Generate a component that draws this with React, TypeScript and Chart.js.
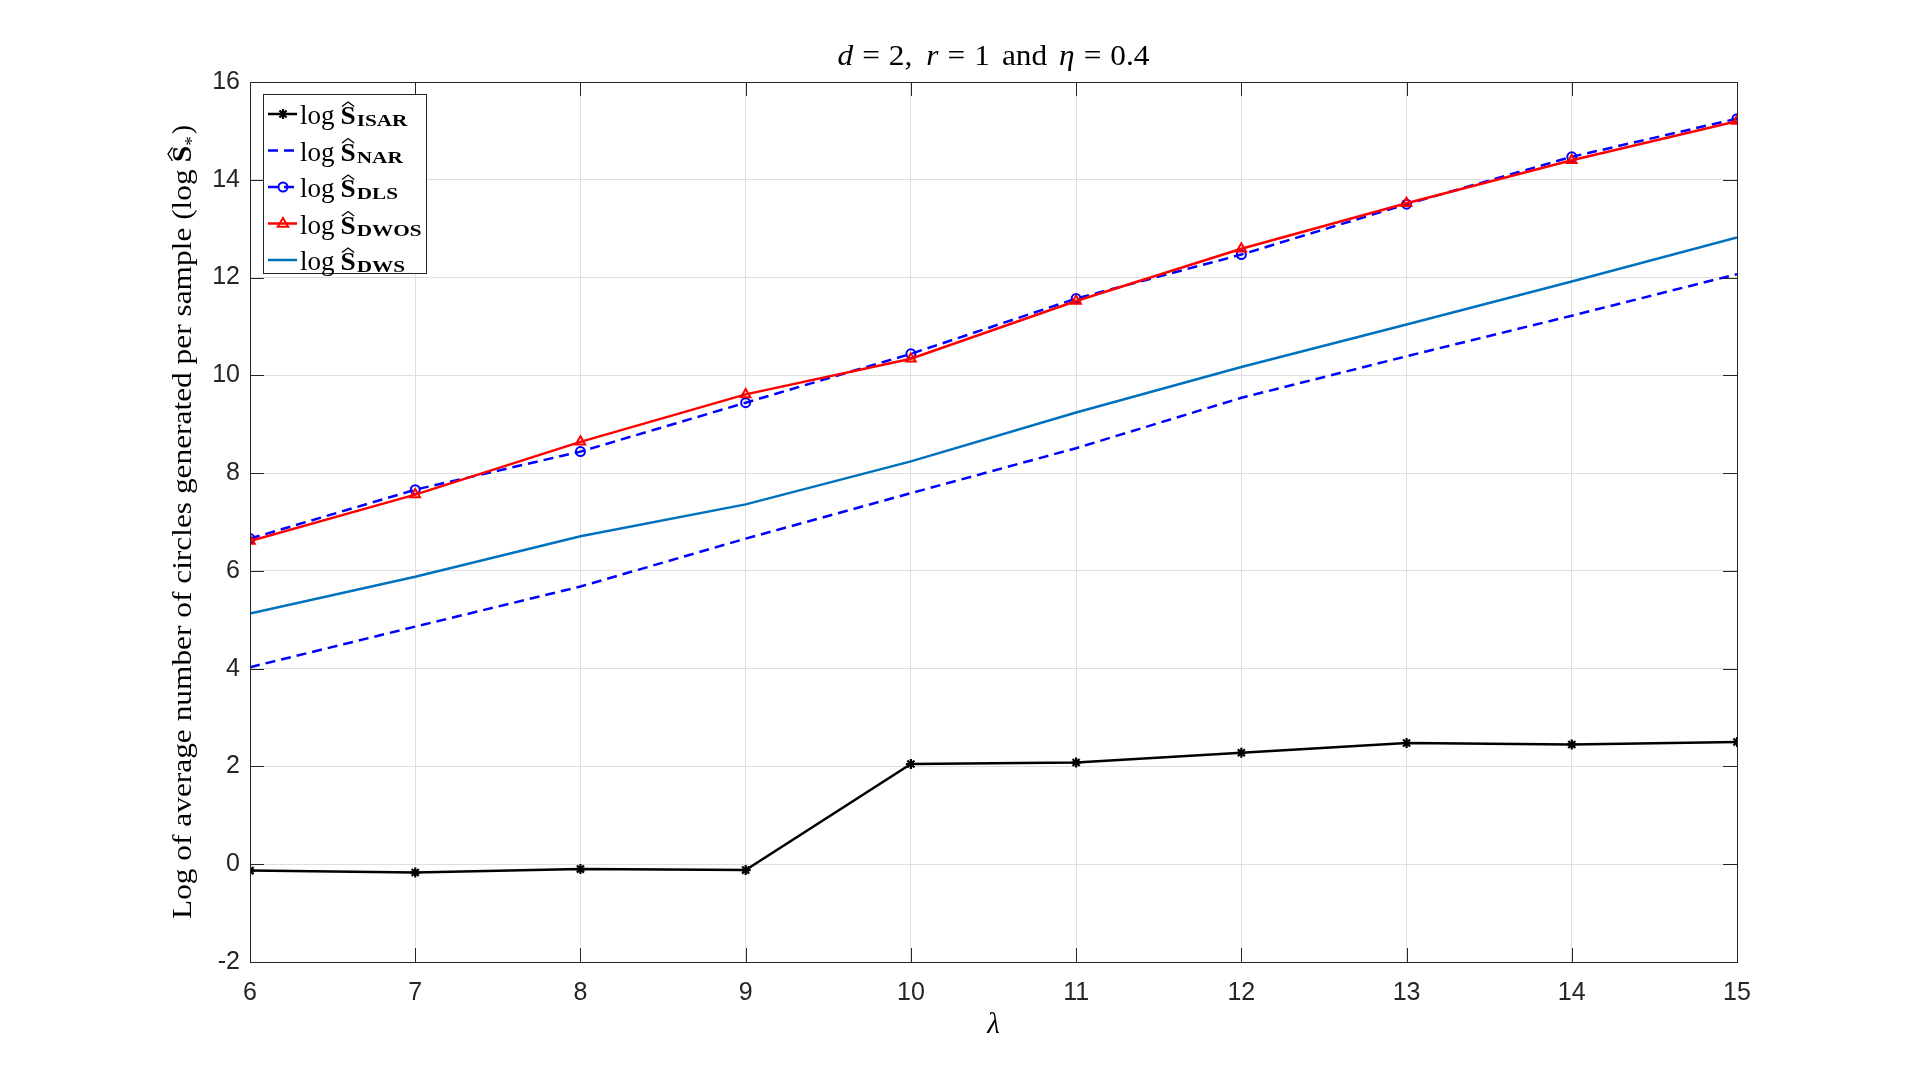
import React, { useEffect, useRef } from "react";
import { Chart, registerables } from "chart.js";

Chart.register(...registerables);

const lambdaValues = [6, 7, 8, 9, 10, 11, 12, 13, 14, 15];
const isarValues = [-0.13, -0.17, -0.1, -0.12, 2.05, 2.08, 2.28, 2.48, 2.45, 2.5];
const narValues = [4.03, 4.86, 5.68, 6.66, 7.59, 8.51, 9.54, 10.39, 11.22, 12.07];
const dlsValues = [6.66, 7.66, 8.44, 9.44, 10.44, 11.57, 12.47, 13.5, 14.47, 15.25];
const dwosValues = [6.61, 7.56, 8.64, 9.61, 10.34, 11.52, 12.59, 13.52, 14.4, 15.2];
const dwsValues = [5.13, 5.88, 6.71, 7.36, 8.24, 9.24, 10.17, 11.04, 11.92, 12.82];

const xTickValues = [6, 7, 8, 9, 10, 11, 12, 13, 14, 15];
const yTickValues = [-2, 0, 2, 4, 6, 8, 10, 12, 14, 16];
const legendSubscripts = ["ISAR", "NAR", "DLS", "DWOS", "DWS"];

const SERIF = "'Liberation Serif', 'DejaVu Serif', serif";
const SANS = "'Liberation Sans', Arial, sans-serif";
const AXIS_COLOR = "#262626";
const DWS_COLOR = "#0072BD";

type Piece = { t: string; f: string; dy?: number; sx?: number; gap?: number; hat?: number };

function richWidth(ctx: CanvasRenderingContext2D, pieces: Piece[]) {
  let w = 0;
  for (const p of pieces) {
    ctx.font = p.f;
    w += ctx.measureText(p.t).width * (p.sx ?? 1) + (p.gap ?? 0);
  }
  return w;
}

function drawRich(
  ctx: CanvasRenderingContext2D,
  pieces: Piece[],
  x: number,
  y: number,
  align: "left" | "center"
) {
  const total = richWidth(ctx, pieces);
  let cx = align === "center" ? x - total / 2 : x;
  ctx.textAlign = "left";
  ctx.textBaseline = "alphabetic";
  for (const p of pieces) {
    ctx.font = p.f;
    const sx = p.sx ?? 1;
    const w = ctx.measureText(p.t).width * sx;
    const by = y + (p.dy ?? 0);
    ctx.save();
    ctx.translate(cx, by);
    ctx.scale(sx, 1);
    ctx.fillText(p.t, 0, 0);
    ctx.restore();
    if (p.hat) {
      const h = p.hat;
      const top = by - h - 5;
      ctx.save();
      ctx.lineWidth = 1.3;
      ctx.beginPath();
      ctx.moveTo(cx + 1.5, top + 4.5);
      ctx.lineTo(cx + w / 2, top);
      ctx.lineTo(cx + w - 1.5, top + 4.5);
      ctx.stroke();
      ctx.restore();
    }
    cx += w + (p.gap ?? 0);
  }
}

const decorPlugin = {
  id: "decor",
  afterDraw(chart: any) {
    const ctx: CanvasRenderingContext2D = chart.ctx;
    const { left, right, top, bottom } = chart.chartArea;
    const xs = chart.scales.x;
    const ys = chart.scales.y;
    ctx.save();
    ctx.strokeStyle = AXIS_COLOR;
    ctx.fillStyle = AXIS_COLOR;
    ctx.lineWidth = 1;
    // inside ticks
    const tl = 14;
    ctx.beginPath();
    for (const v of xTickValues) {
      const px = Math.round(xs.getPixelForValue(v)) + 0.5;
      ctx.moveTo(px, bottom);
      ctx.lineTo(px, bottom - tl);
      ctx.moveTo(px, top);
      ctx.lineTo(px, top + tl);
    }
    for (const v of yTickValues) {
      const py = Math.round(ys.getPixelForValue(v)) + 0.5;
      ctx.moveTo(left, py);
      ctx.lineTo(left + tl, py);
      ctx.moveTo(right, py);
      ctx.lineTo(right - tl, py);
    }
    ctx.stroke();
    // box
    ctx.strokeRect(Math.round(left) + 0.5, Math.round(top) + 0.5, Math.round(right - left), Math.round(bottom - top));

    // title
    ctx.fillStyle = "#000";
    ctx.strokeStyle = "#000";
    const cxTitle = (left + right) / 2;
    const tf = `29px ${SERIF}`;
    const tfi = `italic 29px ${SERIF}`;
    drawRich(
      ctx,
      [
        { t: "d", f: tfi, gap: 9, sx: 1.08 },
        { t: "=", f: tf, gap: 9, sx: 1.08 },
        { t: "2,", f: tf, gap: 14, sx: 1.08 },
        { t: "r", f: tfi, gap: 9, sx: 1.08 },
        { t: "=", f: tf, gap: 9, sx: 1.08 },
        { t: "1", f: tf, gap: 12, sx: 1.08 },
        { t: "and", f: tf, gap: 12, sx: 1.08 },
        { t: "η", f: tfi, gap: 9, sx: 1.08 },
        { t: "=", f: tf, gap: 9, sx: 1.08 },
        { t: "0.4", f: tf, sx: 1.08 },
      ],
      cxTitle,
      65,
      "center"
    );

    // x label
    drawRich(ctx, [{ t: "λ", f: `italic 29px ${SERIF}` }], cxTitle, 1033, "center");

    // y label
    ctx.save();
    ctx.translate(191, (top + bottom) / 2);
    ctx.rotate(-Math.PI / 2);
    drawRich(
      ctx,
      [
        { t: "Log of average number of circles generated per sample (log", f: `28px ${SERIF}`, gap: 7, sx: 1.12 },
        { t: "S", f: `bold 27px ${SERIF}`, hat: 18, sx: 1.1 },
        { t: "*", f: `19px ${SERIF}`, dy: 7, gap: 2 },
        { t: ")", f: `28px ${SERIF}` },
      ],
      0,
      0,
      "center"
    );
    ctx.restore();

    // legend
    const lx0 = 263,
      ly0 = 94,
      lx1 = 426,
      ly1 = 273;
    ctx.fillStyle = "#fff";
    ctx.fillRect(lx0, ly0, lx1 - lx0, ly1 - ly0);
    ctx.strokeStyle = AXIS_COLOR;
    ctx.lineWidth = 1;
    ctx.strokeRect(lx0 + 0.5, ly0 + 0.5, lx1 - lx0, ly1 - ly0);

    const ds = chart.data.datasets;
    const order = [0, 1, 2, 3, 4];
    order.forEach((i, row) => {
      const d = ds[i];
      const yy = 114 + row * 36.5;
      ctx.save();
      ctx.strokeStyle = d.borderColor;
      ctx.lineWidth = d.borderWidth;
      ctx.setLineDash(d.borderDash || []);
      ctx.beginPath();
      ctx.moveTo(268, yy);
      ctx.lineTo(297, yy);
      ctx.stroke();
      ctx.setLineDash([]);
      if (d.pointRadius > 0) {
        ctx.lineWidth = d.pointBorderWidth;
        const r = d.pointRadius;
        const mx = 283;
        ctx.beginPath();
        if (d.pointStyle === "circle") {
          ctx.arc(mx, yy, r, 0, Math.PI * 2);
        } else if (d.pointStyle === "triangle") {
          ctx.moveTo(mx, yy - r);
          ctx.lineTo(mx + r * 0.95, yy + r * 0.6);
          ctx.lineTo(mx - r * 0.95, yy + r * 0.6);
          ctx.closePath();
        } else if (d.pointStyle === "star") {
          for (let k = 0; k < 4; k++) {
            const a = (k * Math.PI) / 4;
            ctx.moveTo(mx - Math.cos(a) * r, yy - Math.sin(a) * r);
            ctx.lineTo(mx + Math.cos(a) * r, yy + Math.sin(a) * r);
          }
        }
        ctx.stroke();
      }
      ctx.restore();
      ctx.fillStyle = "#000";
      ctx.strokeStyle = "#000";
      drawRich(
        ctx,
        [
          { t: "log", f: `27px ${SERIF}`, gap: 6 },
          { t: "S", f: `bold 26px ${SERIF}`, hat: 17, sx: 1.05, gap: 1 },
          { t: legendSubscripts[row], f: `bold 17px ${SERIF}`, dy: 2, sx: 1.25 },
        ],
        300,
        yy + 10,
        "left"
      );
    });
    ctx.restore();
  },
};

function toPoints(vals: number[]) {
  return lambdaValues.map((x, i) => ({ x, y: vals[i] }));
}

export default function App() {
  const ref = useRef<HTMLCanvasElement>(null);
  useEffect(() => {
    if (!ref.current) return;
    const chart = new Chart(ref.current, {
      type: "line",
      data: {
        datasets: [
          {
            label: "ISAR",
            data: toPoints(isarValues),
            borderColor: "#000000",
            backgroundColor: "#000000",
            borderWidth: 2.5,
            pointStyle: "star",
            pointRadius: 5,
            pointBorderWidth: 2.2,
            pointBorderColor: "#000000",
            order: 0,
          },
          {
            label: "NAR",
            data: toPoints(narValues),
            borderColor: "#0000FF",
            borderWidth: 2.5,
            borderDash: [10, 6],
            pointRadius: 0,
            order: -1,
          },
          {
            label: "DLS",
            data: toPoints(dlsValues),
            borderColor: "#0000FF",
            borderWidth: 2.5,
            borderDash: [10, 6],
            pointStyle: "circle",
            pointRadius: 4.5,
            pointBorderWidth: 2,
            pointBorderColor: "#0000FF",
            pointBackgroundColor: "rgba(0,0,0,0)",
            order: -2,
          },
          {
            label: "DWOS",
            data: toPoints(dwosValues),
            borderColor: "#FF0000",
            borderWidth: 2.5,
            pointStyle: "triangle",
            pointRadius: 5.5,
            pointBorderWidth: 2,
            pointBorderColor: "#FF0000",
            pointBackgroundColor: "rgba(0,0,0,0)",
            order: -3,
          },
          {
            label: "DWS",
            data: toPoints(dwsValues),
            borderColor: DWS_COLOR,
            borderWidth: 2.5,
            pointRadius: 0,
            order: -4,
          },
        ] as any,
      },
      options: {
        animation: false,
        responsive: false,
        devicePixelRatio: 1,
        layout: { padding: { left: 0, right: 183, top: 82, bottom: 0 } },
        plugins: { legend: { display: false }, title: { display: false }, tooltip: { enabled: false } },
        elements: { line: { tension: 0, fill: false } },
        scales: {
          x: {
            type: "linear",
            min: 6,
            max: 15,
            afterBuildTicks: (s: any) => {
              s.ticks = xTickValues.map((v) => ({ value: v }));
            },
            afterFit: (s: any) => {
              s.height = 121;
            },
            grid: { color: "#dedede", lineWidth: 1, drawTicks: false },
            border: { display: false },
            ticks: {
              autoSkip: false,
              maxRotation: 0,
              padding: 16,
              color: AXIS_COLOR,
              font: { family: SANS, size: 25 },
            },
          },
          y: {
            type: "linear",
            min: -2,
            max: 16,
            afterBuildTicks: (s: any) => {
              s.ticks = yTickValues.map((v) => ({ value: v }));
            },
            afterFit: (s: any) => {
              s.width = 250;
            },
            grid: { color: "#dedede", lineWidth: 1, drawTicks: false },
            border: { display: false },
            ticks: {
              autoSkip: false,
              padding: 10,
              color: AXIS_COLOR,
              font: { family: SANS, size: 25 },
            },
          },
        },
      } as any,
      plugins: [decorPlugin],
    });
    return () => chart.destroy();
  }, []);
  return (
    <div style={{ position: "fixed", left: 0, top: 0, width: 1920, height: 1083, background: "#fff" }}>
      <canvas ref={ref} width={1920} height={1083} style={{ display: "block", width: 1920, height: 1083 }} />
    </div>
  );
}
